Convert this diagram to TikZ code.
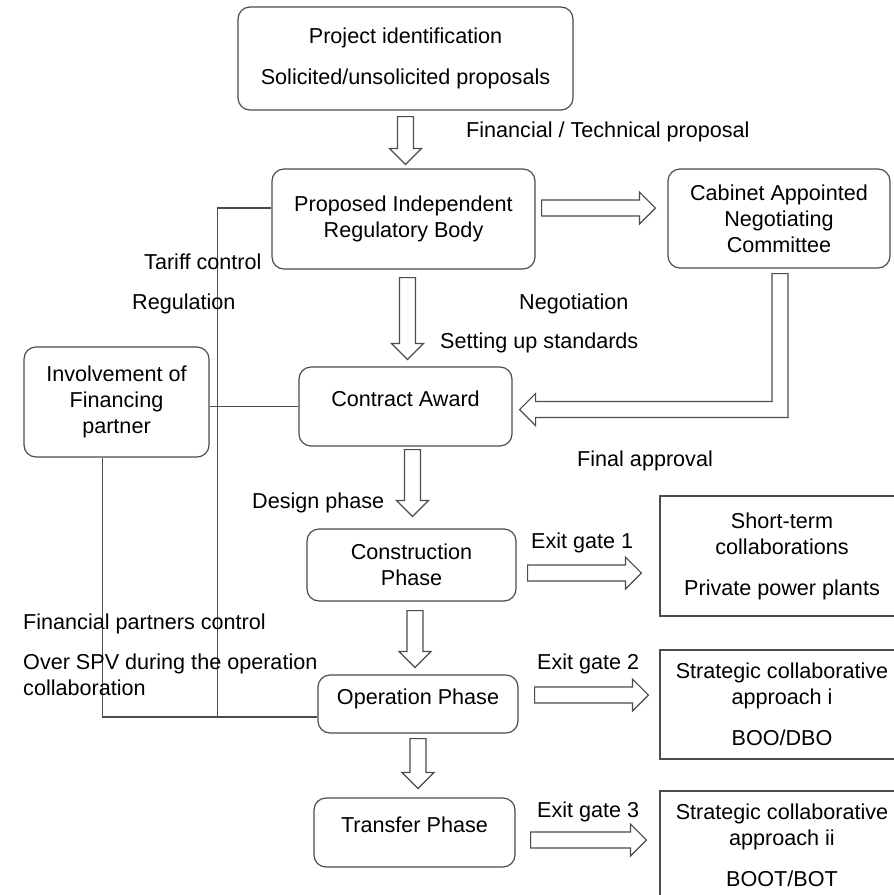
\documentclass[tikz,border=0pt]{standalone}
\usepackage{fontspec}
\setmainfont{Liberation Sans}
\usetikzlibrary{calc}
\pgfdeclarelayer{edgelayer}
\pgfdeclarelayer{nodelayer}
\pgfsetlayers{edgelayer,nodelayer,main}
\tikzstyle{box}=[rectangle, rounded corners=12pt, draw=black!70, line width=1.2pt, fill=white, align=center, inner sep=2pt]
\tikzstyle{flatbox}=[box, sharp corners]
\tikzstyle{oneline}=[text height=15pt, text depth=15pt]
\tikzstyle{edge}=[draw=black!70, line width=1.2pt]
\tikzstyle{blockedge}=[draw=black!70, line width=1.2pt, fill=white, line join=miter]
\tikzstyle{note}=[anchor=base west, inner sep=0pt, align=left]
% hollow block arrow from #1 to #2
\newcommand{\blockarrow}[2]{%
	\coordinate (s) at #1;
	\coordinate (e) at #2;
	\coordinate (m) at ($(e)!16pt!(s)$);
	\draw [style=blockedge] ($(s)!8pt!90:(e)$) -- ($(m)!8pt!90:(e)$) -- ($(m)!16pt!90:(e)$) -- (e)
		-- ($(m)!16pt!-90:(e)$) -- ($(m)!8pt!-90:(e)$) -- ($(s)!8pt!-90:(e)$) -- cycle;}

\begin{document}
\begin{tikzpicture}[x=1pt, y=-1pt, every node/.style={font=\fontsize{21.6}{26}\selectfont}]
	\useasboundingbox (0, 0) rectangle (894, 895);
	\begin{pgfonlayer}{nodelayer}
		\node [style=box, minimum width=335, minimum height=103] (1) at (405.5, 58.5) {Project identification\\[15pt]Solicited/unsolicited proposals};
		\node [style=box, minimum width=263, minimum height=100] (2) at (403.5, 219) {Proposed Independent\\Regulatory Body};
		\node [style=box, minimum width=222, minimum height=99] (3) at (779, 218.5) {Cabinet Appointed\\Negotiating\\Committee};
		\node [style=box, minimum width=185, minimum height=110] (4) at (116.5, 402) {Involvement of\\Financing\\partner};
		\node [style=box, style=oneline, minimum width=213, minimum height=79] (5) at (405.5, 406.5) {Contract Award};
		\node [style=box, minimum width=209, minimum height=72] (6) at (411.5, 565) {Construction\\Phase};
		\node [style=box, style=oneline, minimum width=200, minimum height=58] (7) at (418, 704) {Operation Phase};
		\node [style=box, style=oneline, minimum width=201, minimum height=69] (8) at (414.5, 832.5) {Transfer Phase};
		\node [style=flatbox, minimum width=244, minimum height=120] (9) at (782, 556) {Short-term\\collaborations\\[15pt]Private power plants};
		\node [style=flatbox, minimum width=244, minimum height=109] (10) at (782, 704.5) {Strategic collaborative\\approach i\\[15pt]BOO/DBO};
		\node [style=flatbox, minimum width=244, minimum height=109] (11) at (782, 845.5) {Strategic collaborative\\approach ii\\[15pt]BOOT/BOT};

		\node [style=note] (12) at (466, 137) {Financial / Technical proposal};
		\node [style=note] (13) at (144, 269) {Tariff control};
		\node [style=note] (14) at (132, 309) {Regulation};
		\node [style=note] (15) at (519, 309) {Negotiation};
		\node [style=note] (16) at (440, 348) {Setting up standards};
		\node [style=note] (17) at (577, 466) {Final approval};
		\node [style=note] (18) at (252, 508) {Design phase};
		\node [style=note] (19) at (531, 548) {Exit gate 1};
		\node [style=note] (20) at (537, 669) {Exit gate 2};
		\node [style=note] (21) at (537, 817) {Exit gate 3};
		\node [style=note] (22) at (23, 629) {Financial partners control};
		\node [style=note] (23) at (23, 695) {Over SPV during the operation\\collaboration};
	\end{pgfonlayer}
	\begin{pgfonlayer}{edgelayer}
		\draw [style=edge] ($(2.west)+(0,-11)$) -- ++(-54,0) |- ($(7.west)+(0,13)$);
		\draw [style=edge] ($(4.south)+(-14,0)$) |- ($(7.west)+(0,13)$);
		\draw [style=edge] (4.east |- 5.west) -- (5.west);
		\blockarrow{($(1.south)+(0,6)$)}{($(1.south |- 2.north)+(0,-4)$)}
		\blockarrow{($(2.south)+(4,8)$)}{($(2.south |- 5.north)+(4,-7)$)}
		\blockarrow{($(5.south)+(7,3)$)}{($(5.south |- 6.north)+(7,-12)$)}
		\blockarrow{($(6.south)+(3.5,9)$)}{($(6.south |- 7.north)+(3.5,-7)$)}
		\blockarrow{($(7.south)+(0,5)$)}{($(7.south |- 8.north)+(0,-9)$)}
		\blockarrow{($(2.east)+(6,-11)$)}{($(3.west |- 2.east)+(-12,-11)$)}
		\blockarrow{($(6.east)+(11,8)$)}{($(9.west |- 6.east)+(-18,8)$)}
		\blockarrow{($(7.east)+(16,-9)$)}{($(10.west |- 7.east)+(-11,-9)$)}
		\blockarrow{($(8.east)+(15,7.5)$)}{($(11.west |- 8.east)+(-13,7.5)$)}
		% bent arrow from the committee back to the award
		\coordinate (tip) at ($(5.east)+(7,3)$);
		\coordinate (bar) at ($(3.south)+(1,5)$);
		\draw [style=blockedge] (tip) -- ++(16,-16) -- ++(0,8) -- ($(tip -| bar)+(-8,-8)$) -- ($(bar)+(-8,0)$)
			-- ($(bar)+(8,0)$) -- ($(tip -| bar)+(8,8)$) -- ($(tip)+(16,8)$) -- ($(tip)+(16,16)$) -- cycle;
	\end{pgfonlayer}
\end{tikzpicture}
\end{document}
